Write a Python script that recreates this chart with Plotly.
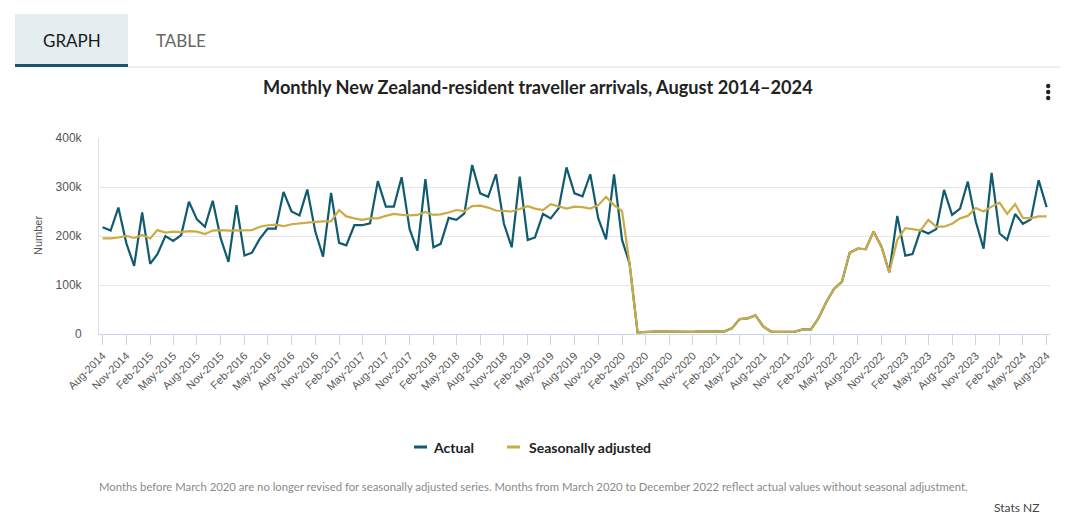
import pandas as pd
import plotly.graph_objects as go

# ---- data (thousands of arrivals), Aug-2014 .. Aug-2024 ----
months = pd.date_range("2014-08-01", "2024-08-01", freq="MS")

actual_k = [
    218, 211, 258, 185, 139,
    248, 143, 163, 200, 190, 202, 270, 234, 219, 272, 195, 147,
    263, 160, 166, 195, 215, 215, 290, 250, 242, 295, 209, 158,
    288, 186, 181, 222, 222, 226, 312, 260, 260, 320, 214, 170,
    316, 177, 184, 237, 233, 246, 345, 287, 280, 326, 225, 177,
    321, 192, 197, 245, 236, 257, 340, 287, 281, 326, 236, 193,
    326, 192, 144, 3.5, 4.5, 5.5, 5.5, 5, 4.5, 4.5, 4.5, 5.5,
    5.5, 4.5, 5, 11.5, 30.5, 32, 38, 15, 4.5, 4.5, 4.5, 5,
    9.5, 9.5, 31, 65, 92, 107, 166, 174, 173, 209, 178, 126,
    241, 160, 163, 212, 205, 214, 294, 243, 256, 311, 229, 174,
    329, 205, 192, 245, 225, 234, 314, 259,
]

seasonally_adjusted_k = [
    195, 195, 197, 200, 196,
    202, 195, 212, 207, 209, 208, 210, 209, 204, 211, 212, 211,
    211, 211, 212, 219, 222, 223, 220, 224, 226, 227, 229, 230,
    230, 253, 240, 236, 233, 236, 236, 241, 245, 243, 242, 243,
    249, 243, 244, 248, 253, 251, 261, 262, 258, 252, 251, 250,
    255, 261, 256, 253, 265, 260, 256, 260, 259, 256, 263, 280,
    263, 251, 144, 3.5, 4.5, 5.5, 5.5, 5, 4.5, 4.5, 4.5, 5.5,
    5.5, 4.5, 5, 11.5, 30.5, 32, 38, 15, 4.5, 4.5, 4.5, 5,
    9.5, 9.5, 31, 65, 92, 107, 166, 174, 173, 209, 178, 126,
    192, 216, 214, 211, 233, 219, 219, 225, 236, 241, 257, 250,
    260, 268, 245, 265, 237, 236, 240, 240,
]

y_tick_values = [0, 100000, 200000, 300000, 400000]
y_tick_labels = ["0", "100k", "200k", "300k", "400k"]

title_text = "Monthly New Zealand-resident traveller arrivals, August 2014\u20132024"
footnote_text = ("Months before March 2020 are no longer revised for seasonally adjusted series. "
                 "Months from March 2020 to December 2022 reflect actual values without seasonal adjustment.")

actual = [v * 1000 for v in actual_k]
seasonally_adjusted = [v * 1000 for v in seasonally_adjusted_k]

C_ACTUAL = "#105b6f"
C_SA = "#cbab45"
FONT = "Lato"

# ---- layout geometry (pixels) ----
W, H = 1075, 530
L, R, T, B = 99, 1050, 138, 334


def px(x):
    return (x - L) / (R - L)


def py(y):
    return (B - y) / (B - T)


fig = go.Figure()
fig.add_trace(go.Scatter(x=months, y=actual, mode="lines", name="Actual",
                         line=dict(color=C_ACTUAL, width=2.2), showlegend=False))
fig.add_trace(go.Scatter(x=months, y=seasonally_adjusted, mode="lines", name="Seasonally adjusted",
                         line=dict(color=C_SA, width=2.2), showlegend=False))

tick_dates = months[::3]
tick_text = [d.strftime("%b-%Y") for d in tick_dates]

fig.update_xaxes(
    range=[pd.Timestamp("2014-07-18"), pd.Timestamp("2024-08-14")],
    tickvals=tick_dates, ticktext=tick_text, tickangle=-45,
    ticks="outside", ticklen=10, tickcolor="#ccd6eb", tickwidth=1,
    showline=True, linecolor="#ccd6eb", linewidth=1,
    showgrid=False, zeroline=False,
    tickfont=dict(family="Liberation Sans", size=11, color="#555555"),
)
fig.update_yaxes(
    range=[0, 400000], tickvals=y_tick_values, ticktext=y_tick_labels,
    showgrid=True, gridcolor="#e6e6e6", gridwidth=1,
    showline=True, linecolor="#dfe4ec", linewidth=1,
    zeroline=False, ticks="", ticklabelstandoff=14,
    tickfont=dict(family="Liberation Sans", size=12, color="#555555"),
)

shapes = []
annotations = []

# tabs
shapes.append(dict(type="rect", xref="paper", yref="paper", x0=px(15), x1=px(128), y0=py(66), y1=py(14),
                   fillcolor="#e4edf0", line=dict(width=0), layer="below"))
shapes.append(dict(type="line", xref="paper", yref="paper", x0=px(128), x1=px(1060), y0=py(67), y1=py(67),
                   line=dict(color="#dcdcdc", width=1)))
shapes.append(dict(type="line", xref="paper", yref="paper", x0=px(15), x1=px(128), y0=py(65.5), y1=py(65.5),
                   line=dict(color="#1b5468", width=3)))
annotations.append(dict(text="GRAPH", xref="paper", yref="paper", x=px(72), y=py(41), showarrow=False,
                        xanchor="center", yanchor="middle", font=dict(family=FONT, size=17, color="#1a1a1a")))
annotations.append(dict(text="TABLE", xref="paper", yref="paper", x=px(181), y=py(41), showarrow=False,
                        xanchor="center", yanchor="middle", font=dict(family=FONT, size=17, color="#666666")))

# title
annotations.append(dict(text="<b>" + title_text + "</b>", xref="paper", yref="paper", x=px(538), y=py(87),
                        showarrow=False, xanchor="center", yanchor="middle",
                        font=dict(family=FONT, size=18.2, color="#222222")))
# menu dots
for yy in (86, 92, 98):
    shapes.append(dict(type="circle", xref="paper", yref="paper", x0=px(1046), x1=px(1050.4),
                       y0=py(yy + 2.2), y1=py(yy - 2.2), fillcolor="#222222", line=dict(width=0)))

# y axis title
annotations.append(dict(text="Number", xref="paper", yref="paper", x=px(38), y=py(236), showarrow=False,
                        textangle=-90, xanchor="center", yanchor="middle",
                        font=dict(family="Liberation Sans", size=11, color="#555555")))

# custom legend
ly = py(447)
shapes.append(dict(type="line", xref="paper", yref="paper", x0=px(414), x1=px(427), y0=ly, y1=ly,
                   line=dict(color=C_ACTUAL, width=3)))
annotations.append(dict(text="<b>Actual</b>", xref="paper", yref="paper", x=px(431), y=ly, showarrow=False,
                        xanchor="left", yanchor="middle", font=dict(family=FONT, size=14, color="#222222")))
shapes.append(dict(type="line", xref="paper", yref="paper", x0=px(507), x1=px(520), y0=ly, y1=ly,
                   line=dict(color=C_SA, width=3)))
annotations.append(dict(text="<b>Seasonally adjusted</b>", xref="paper", yref="paper", x=px(527), y=ly,
                        showarrow=False, xanchor="left", yanchor="middle",
                        font=dict(family=FONT, size=14, color="#222222")))

# footnote + credit
annotations.append(dict(text=footnote_text, xref="paper", yref="paper", x=px(533), y=py(486), showarrow=False,
                        xanchor="center", yanchor="middle", font=dict(family=FONT, size=11.3, color="#8a8a8a")))
annotations.append(dict(text="Stats NZ", xref="paper", yref="paper", x=px(1041), y=py(507), showarrow=False,
                        xanchor="right", yanchor="middle", font=dict(family=FONT, size=12, color="#444444")))

fig.update_layout(
    width=W, height=H,
    margin=dict(l=L, r=W - R, t=T, b=H - B, pad=0),
    paper_bgcolor="white", plot_bgcolor="white",
    shapes=shapes, annotations=annotations,
    showlegend=False,
    font=dict(family=FONT),
)

fig.write_html("out.html", config={"displayModeBar": False},
               post_script="document.body.style.margin='0';")
